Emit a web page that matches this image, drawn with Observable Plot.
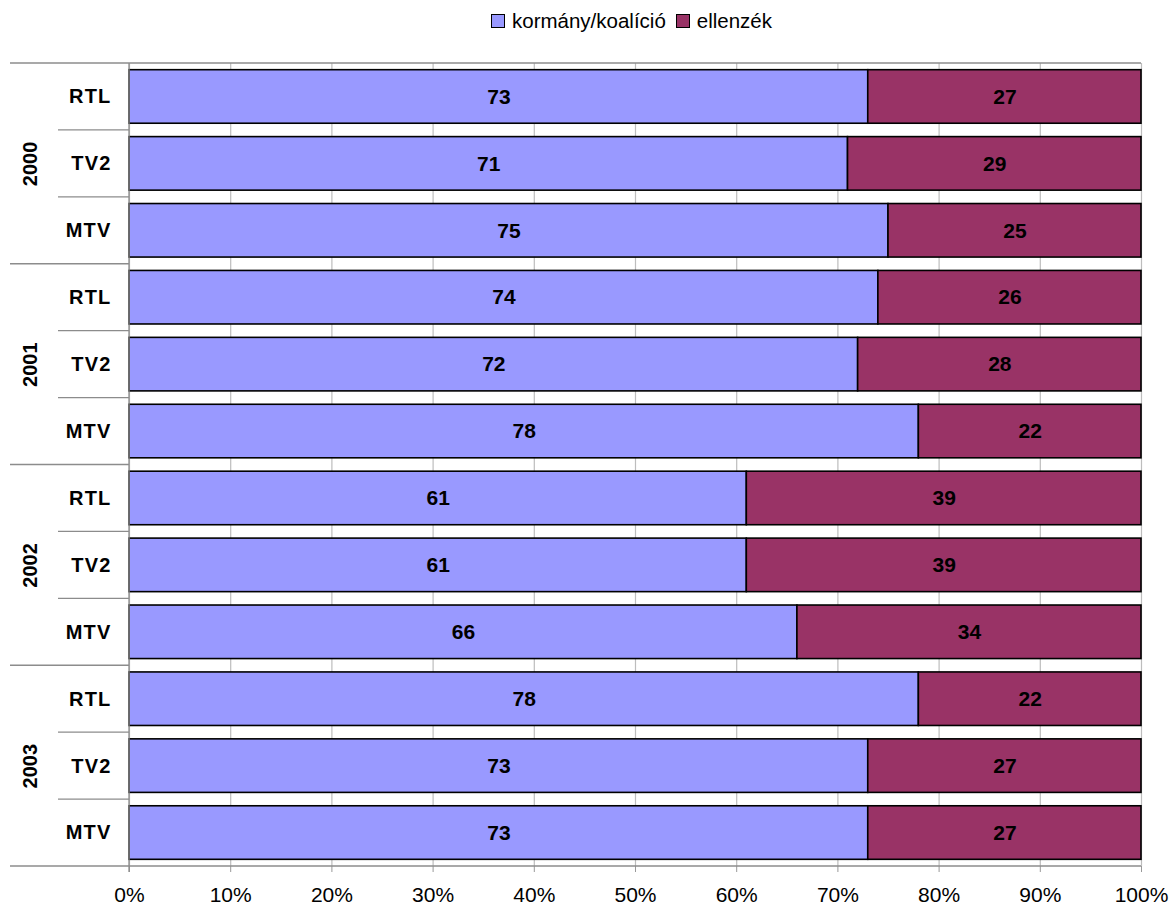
<!DOCTYPE html>
<html>
<head>
<meta charset="utf-8">
<script src="https://cdn.jsdelivr.net/npm/d3@7"></script>
<script src="https://cdn.jsdelivr.net/npm/@observablehq/plot@0.6"></script>
<style>
  body { margin: 0; background: #fff; font-family: "Liberation Sans", Arial, sans-serif; }
  #wrap { position: relative; width: 1170px; height: 907px; }
  #chart { position: absolute; top: 0; left: 0; }
  #chart svg { display: block; }
  #chart g[aria-label="y-axis tick label"] text { letter-spacing: 1.2px; }
  #legend { position: absolute; top: 9px; left: 491px; display: flex; align-items: center; font-size: 20.5px; line-height: 24px; color: #000; z-index: 2; }
  #legend span.item { display: inline-flex; align-items: center; margin-right: 10px; }
  #legend span.sw { width: 12px; height: 12px; border: 1.6px solid #000; margin-right: 7px; display: inline-block; }
</style>
</head>
<body>
<div id="wrap">
  <div id="chart"></div>
  <div id="legend"></div>
</div>
<script>
const years = ["2000", "2001", "2002", "2003"];
const channels = ["RTL", "TV2", "MTV"];
const seriesNames = ["kormány/koalíció", "ellenzék"];
const seriesColors = ["#9999FF", "#993366"];
const government = [73, 71, 75, 74, 72, 78, 61, 61, 66, 78, 73, 73];
const opposition = [27, 29, 25, 26, 28, 22, 39, 39, 34, 22, 27, 27];
const xTicks = [0, 10, 20, 30, 40, 50, 60, 70, 80, 90, 100];

const keys = [];
years.forEach(y => channels.forEach(c => keys.push(y + "|" + c)));
const rows = [];
keys.forEach((k, i) => {
  rows.push({key: k, series: seriesNames[0], value: government[i]});
  rows.push({key: k, series: seriesNames[1], value: opposition[i]});
});

// legend
const leg = document.getElementById("legend");
seriesNames.forEach((s, i) => {
  const it = document.createElement("span");
  it.className = "item";
  const sw = document.createElement("span");
  sw.className = "sw";
  sw.style.background = seriesColors[i];
  it.appendChild(sw);
  it.appendChild(document.createTextNode(s));
  leg.appendChild(it);
});

const plot = Plot.plot({
  width: 1170,
  height: 907,
  marginLeft: 129,
  marginRight: 29,
  marginTop: 63,
  marginBottom: 41,
  style: {fontFamily: "Liberation Sans, Arial, sans-serif", background: "#fff"},
  x: {domain: [0, 100]},
  y: {domain: keys, paddingInner: 0.2, paddingOuter: 0.1, round: false},
  color: {domain: seriesNames, range: seriesColors},
  marks: [
    Plot.ruleX(xTicks, {x: d => d, stroke: "#bdbdbd", strokeWidth: 1.2, strokeOpacity: 1}),
    Plot.barX(rows, Plot.stackX({x: "value", y: "key", z: "series", fill: "series", stroke: "#000", strokeWidth: 1.6})),
    Plot.text(rows, Plot.stackX({x: "value", y: "key", z: "series", text: d => String(d.value), fontWeight: "bold", fontSize: 21, fill: "#000"})),
    Plot.axisX({ticks: xTicks, tickFormat: d => d + "%", tickSize: 6, tickPadding: 15, fontSize: 21, stroke: "#999", color: "#000", label: null}),
    Plot.axisY({tickFormat: k => k.split("|")[1], tickSize: 0, tickPadding: 18, fontSize: 20, fontWeight: "bold", color: "#000", label: null}),
    Plot.text(years, {y: d => d + "|TV2", text: d => d, rotate: -90, frameAnchor: "left", textAnchor: "middle", dx: -99, fontWeight: "bold", fontSize: 20, fill: "#000"})
  ]
});

document.getElementById("chart").appendChild(plot);

// separators on the left, derived from the y band scale
const ys = plot.scale("y");
const xs = plot.scale("x");
const step = ys.step;
const bw = ys.bandwidth;
const x0 = xs.apply(0);
const x100 = xs.apply(100);
const svg = d3.select(plot);
const g = svg.append("g").attr("stroke", "#8c8c8c").attr("stroke-width", 1.3);
keys.forEach((k, i) => {
  const top = ys.apply(k) - (step - bw) / 2;
  const isYear = i % channels.length === 0;
  g.append("line")
    .attr("x1", isYear ? 10 : 58).attr("x2", isYear && i === 0 ? x100 : x0)
    .attr("y1", top).attr("y2", top);
});
const lastBottom = ys.apply(keys[keys.length - 1]) + bw + (step - bw) / 2;
g.append("line").attr("x1", 10).attr("x2", x100).attr("y1", lastBottom).attr("y2", lastBottom);
g.append("line").attr("x1", x0).attr("x2", x0)
  .attr("y1", ys.apply(keys[0]) - (step - bw) / 2).attr("y2", lastBottom + 6);
</script>
</body>
</html>
